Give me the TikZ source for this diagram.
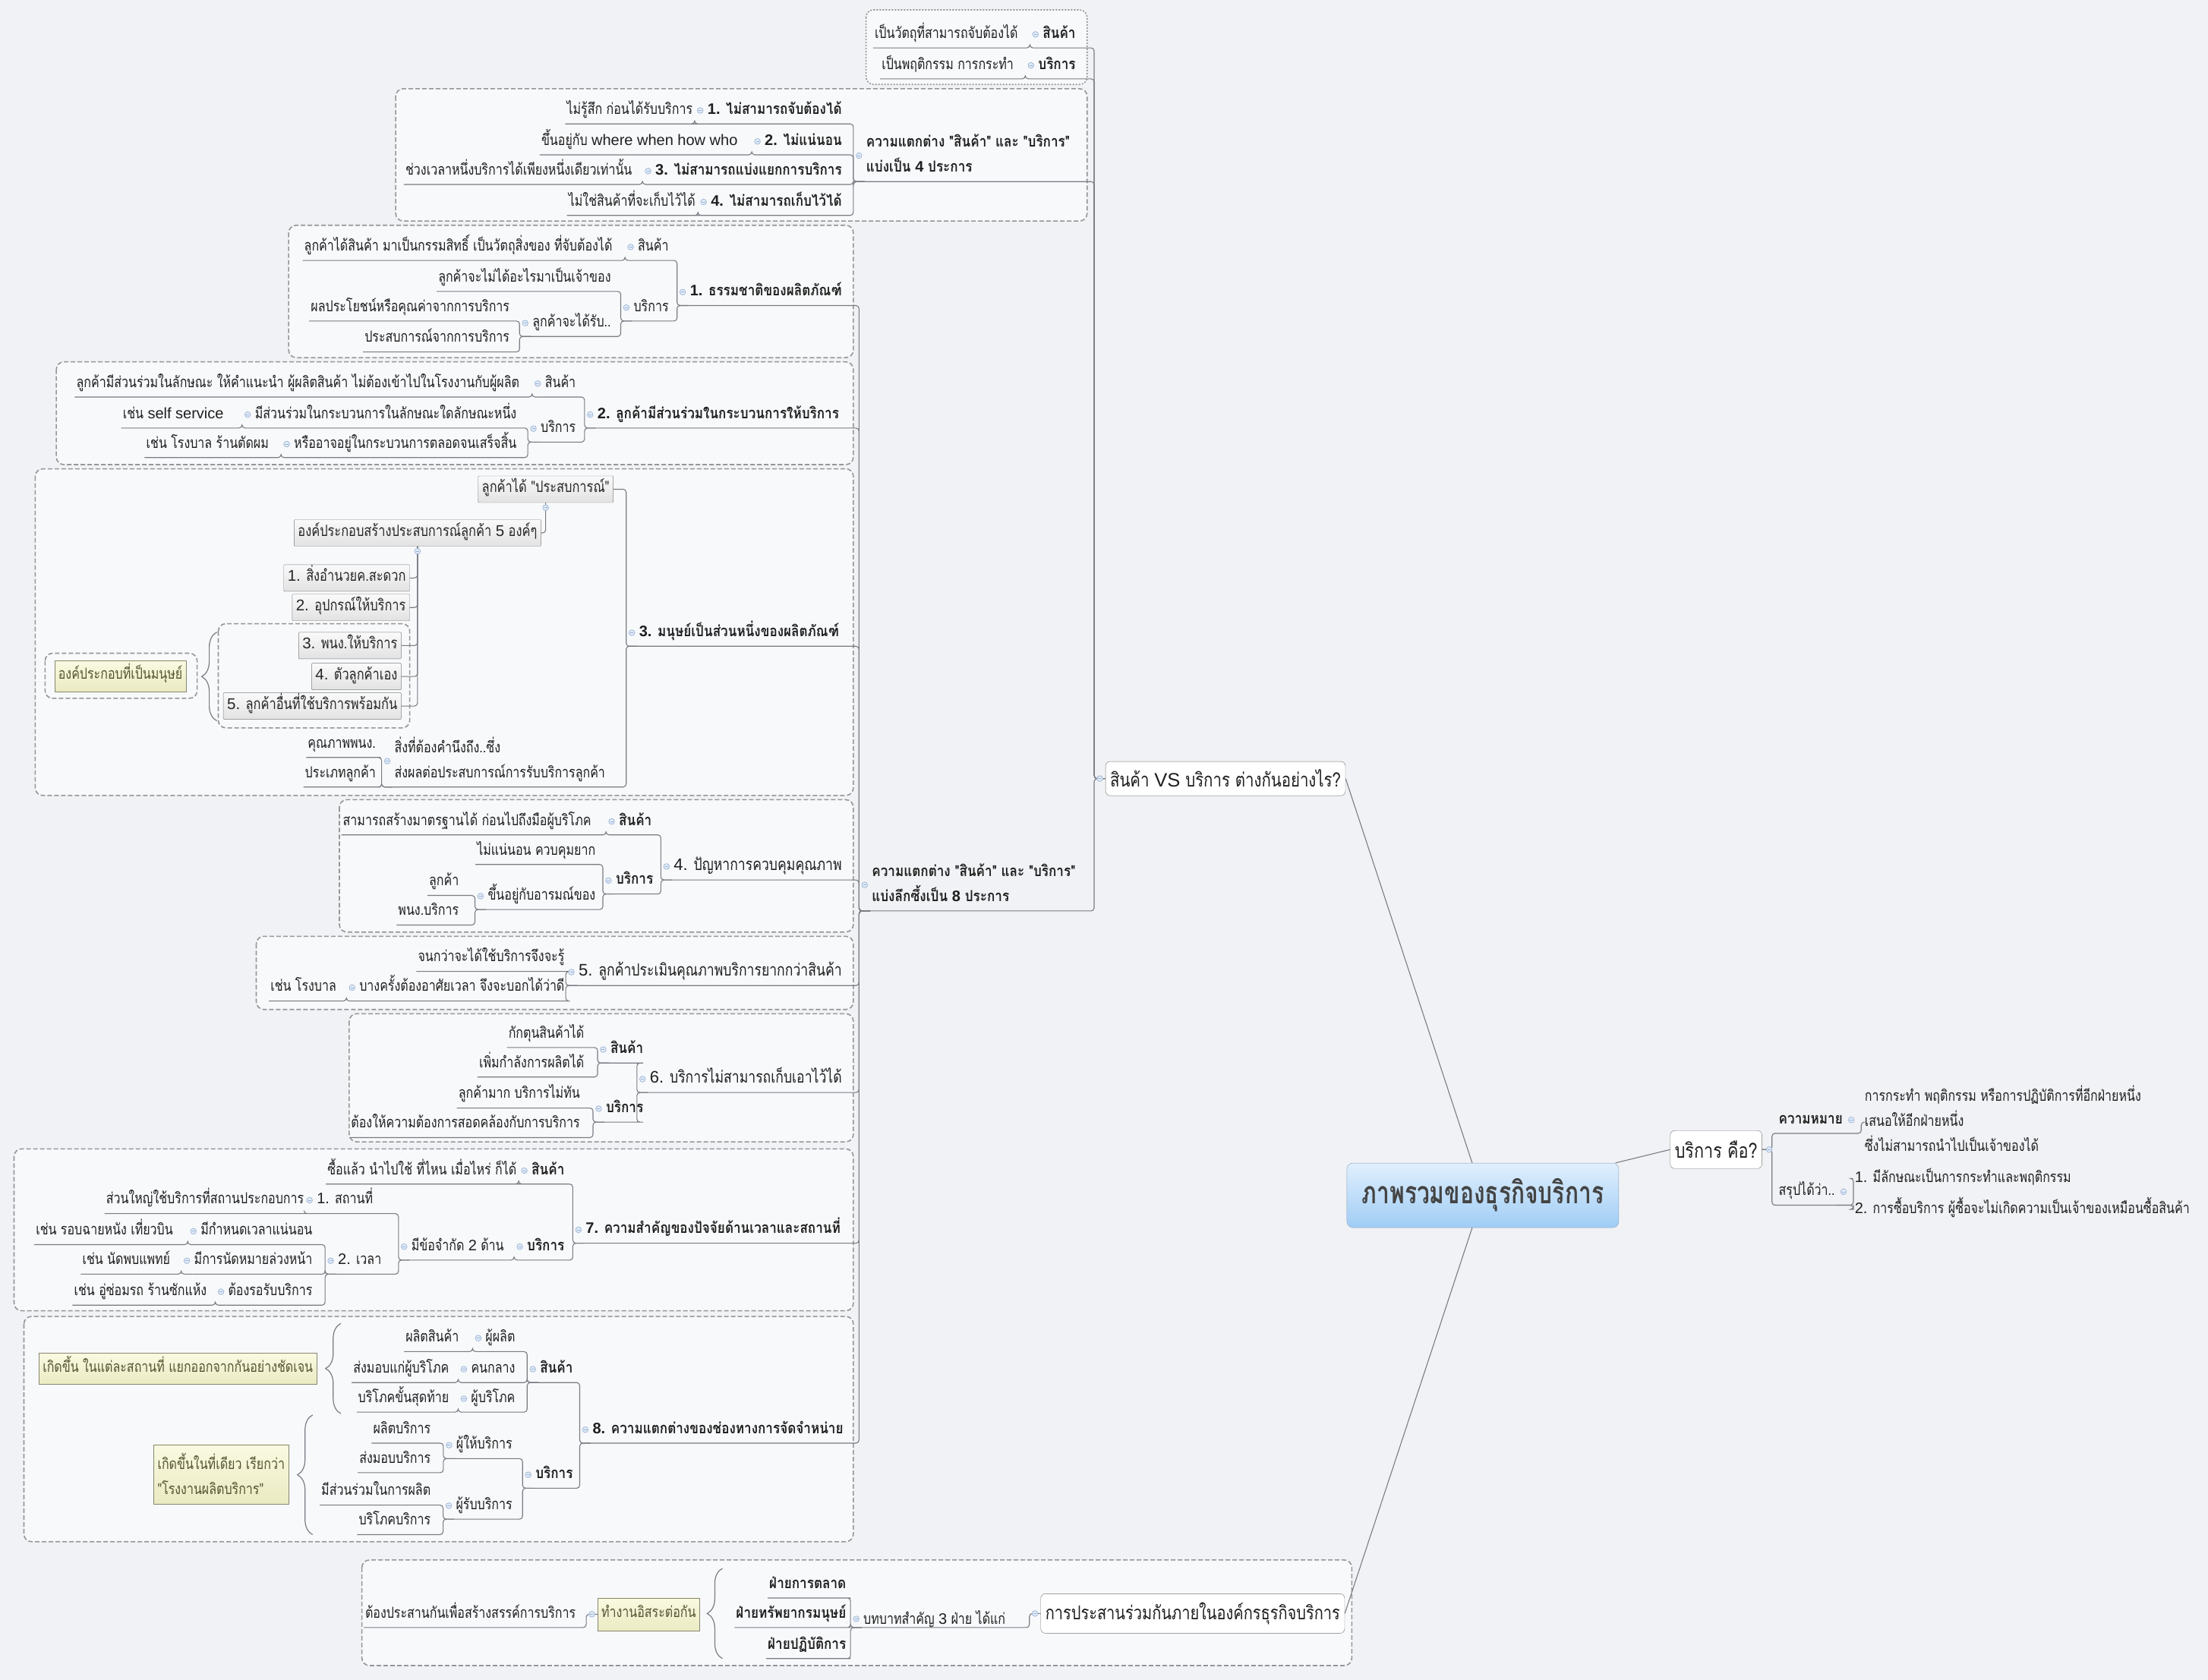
\documentclass[tikz,border=0pt]{standalone}
\usepackage{fontspec}
\setmainfont[Script=Thai, Ligatures=TeXOff, FakeStretch=0.8, BoldFeatures={FakeStretch=0.855}]{Loma}
\newfontfamily\lat{Liberation Sans}
\newfontfamily\rootf[Script=Thai, FakeStretch=0.74]{Loma}
\usetikzlibrary{calc, decorations.pathreplacing}

\definecolor{bgc}{RGB}{241,242,245}
\definecolor{bndfill}{RGB}{248,249,251}
\definecolor{bndline}{RGB}{150,150,150}
\definecolor{lnk}{RGB}{120,124,130}
\definecolor{btnfill}{RGB}{226,235,247}
\definecolor{btnline}{RGB}{150,178,212}
\definecolor{boxtop}{RGB}{250,250,250}
\definecolor{boxbot}{RGB}{226,226,226}
\definecolor{boxline}{RGB}{125,125,125}
\definecolor{notetop}{RGB}{250,250,226}
\definecolor{notebot}{RGB}{234,234,194}
\definecolor{noteline}{RGB}{135,135,115}
\definecolor{notetext}{RGB}{85,85,50}
\definecolor{roottop}{RGB}{224,239,253}
\definecolor{rootbot}{RGB}{160,205,245}
\definecolor{rootline}{RGB}{135,160,190}
\definecolor{roottext}{RGB}{68,68,68}

\newcommand\fsL{\fontsize{20}{33}\selectfont}
\newcommand\fsX{\fontsize{20.5}{33}\selectfont}
\newcommand\fsM{\fontsize{22}{33}\selectfont}
\newcommand\fsB{\fontsize{25.5}{30}\selectfont}
\newcommand\fsR{\rootf\bfseries\fontsize{40.5}{44}\selectfont}
% latin words and numbers
\newcommand\la[1]{{\lat #1}}
% struts for multi-line topics
\newcommand\up{\rule{0pt}{22.5pt}}
\newcommand\dn{\rule[-12.5pt]{0pt}{12.5pt}}
% left-side link: underline of child, elbow to parent's underline
\newcommand\lk[2]{\draw[link] (#1.south west) -- (#1.south east) -| ($(#2.south west)+(-8,0)$) -- (#2.south west);}
% link into a boxed topic
\newcommand\lkb[2]{\draw[link] (#1.south west) -- (#1.south east) -| ($(#2.west)+(-8,0)$) -- (#2.west);}
% tree link (boxes hanging below parent)
\newcommand\lkt[2]{\draw[link] (#1.east) -| (#2.south);}
% collapse button
\newcommand\btn[1]{\draw[btn] #1 circle (3.8pt); \draw[btnline, line width=0.6pt] #1 ++(-2pt,0) -- ++(4pt,0);}

\begin{document}
\begin{tikzpicture}[x=1.8546pt, y=-1.8546pt,
  leaf/.style={font=\fsL, text=black!88, inner xsep=2pt, inner ysep=0pt,
               text height=22.5pt, text depth=12.5pt, anchor=south east},
  hub/.style={leaf, font=\fsL\bfseries},
  mid/.style={leaf, font=\fsM},
  lft/.style={anchor=south west, align=left, text height={}, text depth={}},
  box/.style={draw=boxline, top color=boxtop, bottom color=boxbot, font=\fsX,
              text=black!85, inner xsep=5pt, text height=14pt, text depth=5pt,
              minimum height=35pt, rounded corners=1pt},
  note/.style={draw=noteline, top color=notetop, bottom color=notebot, font=\fsL,
               text=notetext, inner xsep=5pt, text height=14pt, text depth=5pt,
               minimum height=41pt},
  topbox/.style={draw=black!55, fill=white, rounded corners=6pt, font=\fsB,
                 text=black!88, inner xsep=6pt, minimum height=45pt},
  root/.style={draw=rootline, top color=roottop, bottom color=rootbot,
               rounded corners=8pt, font=\fsR, text=roottext,
               minimum width=358pt, minimum height=85pt},
  link/.style={draw=lnk, line width=1.1pt, rounded corners=4pt},
  bnd/.style={draw=bndline, fill=bndfill, line width=1.6pt,
              dash pattern=on 6pt off 3pt, rounded corners=10pt},
  dotbnd/.style={bnd, dash pattern=on 2pt off 2pt},
  btn/.style={draw=btnline, fill=btnfill, line width=0.7pt},
  brc/.style={decorate, decoration={brace, amplitude=20pt, aspect=0.5},
              draw=lnk, line width=1.2pt}
]
\useasboundingbox (0,0) rectangle (1568,1193);
\fill[bgc] (0,0) rectangle (1568,1193);

% boundaries
\draw[dotbnd] (615,7) rectangle (772,60);
\draw[bnd] (281,63) rectangle (772,157);
\draw[bnd] (205,160) rectangle (606,254);
\draw[bnd] (40,257) rectangle (606,330);
\draw[bnd] (25,333) rectangle (606,565);
\draw[bnd] (155,443) rectangle (291,517);
\draw[bnd] (32,464) rectangle (140,496);
\draw[bnd] (241,568) rectangle (606,662);
\draw[bnd] (182,665) rectangle (606,717);
\draw[bnd] (248,720) rectangle (606,811);
\draw[bnd] (10,816) rectangle (606,931);
\draw[bnd] (17,935) rectangle (606,1095);
\draw[bnd] (257,1108) rectangle (960,1183);

% centre
\node[root] (root) at (1053,849) {ภาพรวมของธุรกิจบริการ};
\node[topbox, anchor=west] (vs) at (785,553) {สินค้า \la{VS} บริการ ต่างกันอย่างไร?};
\node[topbox, anchor=west, font=\fontsize{27}{30}\selectfont, minimum height=50pt] (wk) at (1186,816.5) {บริการ คือ?};
\node[topbox, anchor=east, font=\fontsize{25}{28}\selectfont, minimum height=52pt] (co) at (955,1146) {การประสานร่วมกันภายในองค์กรธุรกิจบริการ};

% goods / service
\node[hub] (gS) at (765,34) {สินค้า};
\node[leaf] (gSd) at (724,34) {เป็นวัตถุที่สามารถจับต้องได้};
\node[hub] (gB) at (765,56) {บริการ};
\node[leaf] (gBd) at (721,56) {เป็นพฤติกรรม การกระทำ};

% four differences
\node[hub, lft] (d4) at (614,129) {\up ความแตกต่าง "สินค้า" และ "บริการ"\\แบ่งเป็น \la{4} ประการ\dn};
\node[hub] (f1) at (599,88) {\la{1.} ไม่สามารถจับต้องได้};
\node[leaf] (f1d) at (493,88) {ไม่รู้สึก ก่อนได้รับบริการ};
\node[hub] (f2) at (599,110) {\la{2.} ไม่แน่นอน};
\node[leaf] (f2d) at (525,110) {ขึ้นอยู่กับ \la{where when how who}};
\node[hub] (f3) at (599,131) {\la{3.} ไม่สามารถแบ่งแยกการบริการ};
\node[leaf] (f3d) at (450,131) {ช่วงเวลาหนึ่งบริการได้เพียงหนึ่งเดียวเท่านั้น};
\node[hub] (f4) at (599,153) {\la{4.} ไม่สามารถเก็บไว้ได้};
\node[leaf] (f4d) at (495,153) {ไม่ใช่สินค้าที่จะเก็บไว้ได้};

% eight differences
\node[hub, lft] (d8) at (618,647) {\up ความแตกต่าง "สินค้า" และ "บริการ"\\แบ่งลึกซึ้งเป็น \la{8} ประการ\dn};

% 1
\node[hub] (n1) at (599,217) {\la{1.} ธรรมชาติของผลิตภัณฑ์};
\node[leaf] (n1g) at (476,185) {สินค้า};
\node[leaf] (n1gd) at (436,185) {ลูกค้าได้สินค้า มาเป็นกรรมสิทธิ์ เป็นวัตถุสิ่งของ ที่จับต้องได้};
\node[leaf] (n1s) at (476,228) {บริการ};
\node[leaf] (n1sa) at (435,207) {ลูกค้าจะไม่ได้อะไรมาเป็นเจ้าของ};
\node[leaf] (n1sb) at (435,239) {ลูกค้าจะได้รับ..};
\node[leaf] (n1sb1) at (363,228) {ผลประโยชน์หรือคุณค่าจากการบริการ};
\node[leaf] (n1sb2) at (363,250) {ประสบการณ์จากการบริการ};

% 2
\node[hub] (n2) at (597,304) {\la{2.} ลูกค้ามีส่วนร่วมในกระบวนการให้บริการ};
\node[leaf] (n2g) at (410,282) {สินค้า};
\node[leaf] (n2gd) at (370,282) {ลูกค้ามีส่วนร่วมในลักษณะ ให้คำแนะนำ ผู้ผลิตสินค้า ไม่ต้องเข้าไปในโรงงานกับผู้ผลิต};
\node[leaf] (n2s) at (410,314) {บริการ};
\node[leaf] (n2sa) at (368,304) {มีส่วนร่วมในกระบวนการในลักษณะใดลักษณะหนึ่ง};
\node[leaf] (n2sad) at (160,304) {เช่น \la{self service}};
\node[leaf] (n2sb) at (368,325) {หรืออาจอยู่ในกระบวนการตลอดจนเสร็จสิ้น};
\node[leaf] (n2sbd) at (192,325) {เช่น โรงบาล ร้านตัดผม};

% 3
\node[hub] (n3) at (597,459) {\la{3.} มนุษย์เป็นส่วนหนึ่งของผลิตภัณฑ์};
\node[box] (x1) at (387.5,347.5) {ลูกค้าได้ "ประสบการณ์"};
\node[box] (x2) at (296.5,378.5) {องค์ประกอบสร้างประสบการณ์ลูกค้า \la{5} องค์ๆ};
\node[box, anchor=east] (x3) at (291,410.5) {\la{1.} สิ่งอำนวยค.สะดวก};
\node[box, anchor=east] (x4) at (291,431.5) {\la{2.} อุปกรณ์ให้บริการ};
\node[box, anchor=east] (x5) at (285,458.5) {\la{3.} พนง.ให้บริการ};
\node[box, anchor=east] (x6) at (285,480.5) {\la{4.} ตัวลูกค้าเอง};
\node[box, anchor=east] (x7) at (285,501.5) {\la{5.} ลูกค้าอื่นที่ใช้บริการพร้อมกัน};
\node[note] (hum) at (85.5,480) {องค์ประกอบที่เป็นมนุษย์};
\node[leaf, lft] (care) at (279,559) {\up สิ่งที่ต้องคำนึงถึง..ซึ่ง\\ส่งผลต่อประสบการณ์การรับบริการลูกค้า\dn};
\node[leaf] (care1) at (268,538) {คุณภาพพนง.};
\node[leaf] (care2) at (268,559) {ประเภทลูกค้า};

% 4
\node[mid] (n4) at (599,625) {\la{4.} ปัญหาการควบคุมคุณภาพ};
\node[hub] (n4g) at (464,593) {สินค้า};
\node[leaf] (n4gd) at (421,593) {สามารถสร้างมาตรฐานได้ ก่อนไปถึงมือผู้บริโภค};
\node[hub] (n4s) at (465,635) {บริการ};
\node[leaf] (n4sa) at (424,614) {ไม่แน่นอน ควบคุมยาก};
\node[leaf] (n4sb) at (424,646) {ขึ้นอยู่กับอารมณ์ของ};
\node[leaf] (n4sb1) at (327,636) {ลูกค้า};
\node[leaf] (n4sb2) at (327,657) {พนง.บริการ};

% 5
\node[mid] (n5) at (599,700) {\la{5.} ลูกค้าประเมินคุณภาพบริการยากกว่าสินค้า};
\node[leaf] (n5a) at (402,690) {จนกว่าจะได้ใช้บริการจึงจะรู้};
\node[leaf] (n5b) at (402,711) {บางครั้งต้องอาศัยเวลา จึงจะบอกได้ว่าดี};
\node[leaf] (n5bd) at (240,711) {เช่น โรงบาล};

% 6
\node[mid] (n6) at (599,776) {\la{6.} บริการไม่สามารถเก็บเอาไว้ได้};
\node[hub] (n6g) at (458,755) {สินค้า};
\node[leaf] (n6ga) at (416,744) {กักตุนสินค้าได้};
\node[leaf] (n6gb) at (416,765) {เพิ่มกำลังการผลิตได้};
\node[hub] (n6s) at (458,797) {บริการ};
\node[leaf] (n6sa) at (413,787) {ลูกค้ามาก บริการไม่ทัน};
\node[leaf] (n6sb) at (413,808) {ต้องให้ความต้องการสอดคล้องกับการบริการ};

% 7
\node[hub] (n7) at (598,883) {\la{7.} ความสำคัญของปัจจัยด้านเวลาและสถานที่};
\node[hub] (n7g) at (402,841) {สินค้า};
\node[leaf] (n7gd) at (368,841) {ซื้อแล้ว นำไปใช้ ที่ไหน เมื่อไหร่ ก็ได้};
\node[hub] (n7s) at (402,895) {บริการ};
\node[leaf] (n7sa) at (359,895) {มีข้อจำกัด \la{2} ด้าน};
\node[leaf] (n7p) at (266,862) {\la{1.} สถานที่};
\node[leaf] (n7pd) at (217,862) {ส่วนใหญ่ใช้บริการที่สถานประกอบการ};
\node[leaf] (n7t) at (272,905) {\la{2.} เวลา};
\node[leaf] (n7t1) at (223,884) {มีกำหนดเวลาแน่นอน};
\node[leaf] (n7t1d) at (124,884) {เช่น รอบฉายหนัง เที่ยวบิน};
\node[leaf] (n7t2) at (223,905) {มีการนัดหมายล่วงหน้า};
\node[leaf] (n7t2d) at (122,905) {เช่น นัดพบแพทย์};
\node[leaf] (n7t3) at (223,927) {ต้องรอรับบริการ};
\node[leaf] (n7t3d) at (148,927) {เช่น อู่ซ่อมรถ ร้านซักแห้ง};

% 8
\node[hub] (n8) at (600,1025) {\la{8.} ความแตกต่างของช่องทางการจัดจำหน่าย};
\node[hub] (n8g) at (408,982) {สินค้า};
\node[leaf] (n8g1) at (367,960) {ผู้ผลิต};
\node[leaf] (n8g1d) at (327,960) {ผลิตสินค้า};
\node[leaf] (n8g2) at (367,982) {คนกลาง};
\node[leaf] (n8g2d) at (320,982) {ส่งมอบแก่ผู้บริโภค};
\node[leaf] (n8g3) at (367,1003) {ผู้บริโภค};
\node[leaf] (n8g3d) at (320,1003) {บริโภคขั้นสุดท้าย};
\node[hub] (n8s) at (408,1057) {บริการ};
\node[leaf] (n8s1) at (365,1036) {ผู้ให้บริการ};
\node[leaf] (n8s1a) at (307,1025) {ผลิตบริการ};
\node[leaf] (n8s1b) at (307,1046) {ส่งมอบบริการ};
\node[leaf] (n8s2) at (365,1079) {ผู้รับบริการ};
\node[leaf] (n8s2a) at (307,1069) {มีส่วนร่วมในการผลิต};
\node[leaf] (n8s2b) at (307,1090) {บริโภคบริการ};
\node[note, anchor=east] (sepr) at (225,972) {เกิดขึ้น ในแต่ละสถานที่ แยกออกจากกันอย่างชัดเจน};
\node[note, anchor=east, align=left, text height={}, text depth={}, minimum height=78pt] (same) at (205,1047) {เกิดขึ้นในที่เดียว เรียกว่า\\"โรงงานผลิตบริการ"};

% coordination
\node[leaf, lft] (rl) at (612,1156) {บทบาทสำคัญ \la{3} ฝ่าย ได้แก่};
\node[hub] (m1) at (602,1135) {ฝ่ายการตลาด};
\node[hub] (m2) at (602,1156) {ฝ่ายทรัพยากรมนุษย์};
\node[hub] (m3) at (602,1178) {ฝ่ายปฏิบัติการ};
\node[note, anchor=east, minimum height=43pt] (ind) at (497,1146.5) {ทำงานอิสระต่อกัน};
\node[leaf] (indd) at (410,1156) {ต้องประสานกันเพื่อสร้างสรรค์การบริการ};

% what is service
\node[hub, anchor=south west] (km) at (1262,805) {ความหมาย};
\node[leaf, anchor=west, align=left, text height={}, text depth={}] (kmd) at (1323,797) {\up การกระทำ พฤติกรรม หรือการปฏิบัติการที่อีกฝ่ายหนึ่ง\\เสนอให้อีกฝ่ายหนึ่ง\\ซึ่งไม่สามารถนำไปเป็นเจ้าของได้\dn};
\node[leaf, anchor=south west] (sp) at (1262,856) {สรุปได้ว่า..};
\node[leaf, anchor=west] (sp1) at (1316,837) {\la{1.} มีลักษณะเป็นการกระทำและพฤติกรรม};
\node[leaf, anchor=west] (sp2) at (1316,859) {\la{2.} การซื้อบริการ ผู้ซื้อจะไม่เกิดความเป็นเจ้าของเหมือนซื้อสินค้า};

% links
\draw[link] (root) -- (vs.east);
\draw[link] (root) -- (wk.west);
\draw[link] (root) -- (co.east);
\foreach \c in {gS, gB, d4, d8} {\lkb{\c}{vs}}
\foreach \c/\p in {gSd/gS, gBd/gB, f1/d4, f2/d4, f3/d4, f4/d4, f1d/f1, f2d/f2, f3d/f3, f4d/f4,
  n1/d8, n2/d8, n3/d8, n4/d8, n5/d8, n6/d8, n7/d8, n8/d8,
  n1g/n1, n1gd/n1g, n1s/n1, n1sa/n1s, n1sb/n1s, n1sb1/n1sb, n1sb2/n1sb,
  n2g/n2, n2gd/n2g, n2s/n2, n2sa/n2s, n2sad/n2sa, n2sb/n2s, n2sbd/n2sb,
  care/n3, care1/care, care2/care,
  n4g/n4, n4gd/n4g, n4s/n4, n4sa/n4s, n4sb/n4s, n4sb1/n4sb, n4sb2/n4sb,
  n5a/n5, n5b/n5, n5bd/n5b,
  n6g/n6, n6ga/n6g, n6gb/n6g, n6s/n6, n6sa/n6s, n6sb/n6s,
  n7g/n7, n7gd/n7g, n7s/n7, n7sa/n7s, n7p/n7sa, n7pd/n7p, n7t/n7sa,
  n7t1/n7t, n7t1d/n7t1, n7t2/n7t, n7t2d/n7t2, n7t3/n7t, n7t3d/n7t3,
  n8g/n8, n8g1/n8g, n8g1d/n8g1, n8g2/n8g, n8g2d/n8g2, n8g3/n8g, n8g3d/n8g3,
  n8s/n8, n8s1/n8s, n8s1a/n8s1, n8s1b/n8s1, n8s2/n8s, n8s2a/n8s2, n8s2b/n8s2,
  m1/rl, m2/rl, m3/rl} {\lk{\c}{\p}}
\draw[link] (x1.east) -| ($(n3.south west)+(-8,0)$) -- (n3.south west);
\foreach \c/\p in {x2/x1, x3/x2, x4/x2, x5/x2, x6/x2, x7/x2} {\lkt{\c}{\p}}
\lkb{rl}{co}
\lkb{indd}{ind}
\draw[link] (wk.east) -- ++(7,0) |- (km.south west) -- (km.south east) -- ++(12,0) |- (kmd.west);
\draw[link] (wk.east) -- ++(7,0) |- (sp.south west) -- (sp.south east) -- ++(12,0) |- (sp1.west);
\draw[link] (sp.south east) -- ++(12,0) |- (sp2.west);

% summaries
\draw[brc] (154,512) -- (154,449);
\draw[brc] (242,1004) -- (242,940);
\draw[brc] (222,1090) -- (222,1005);
\draw[brc] (513,1178) -- (513,1114);

% buttons
\foreach \n in {gS, gB, d4, d8, f1, f2, f3, f4, n1, n1g, n1s, n1sb, n2, n2g, n2s, n2sa, n2sb,
  n3, care, n4, n4g, n4s, n4sb, n5, n5b, n6, n6g, n6s, n7, n7g, n7s, n7sa, n7p, n7t,
  n7t1, n7t2, n7t3, n8, n8g, n8g1, n8g2, n8g3, n8s, n8s1, n8s2, rl, vs, co, ind}
  {\btn{($(\n.west)+(-4,0)$)}}
\foreach \n in {wk, km, sp} {\btn{($(\n.east)+(5,0)$)}}
\foreach \n in {x1, x2} {\btn{($(\n.south)+(0,3.5)$)}}
\end{tikzpicture}
\end{document}
